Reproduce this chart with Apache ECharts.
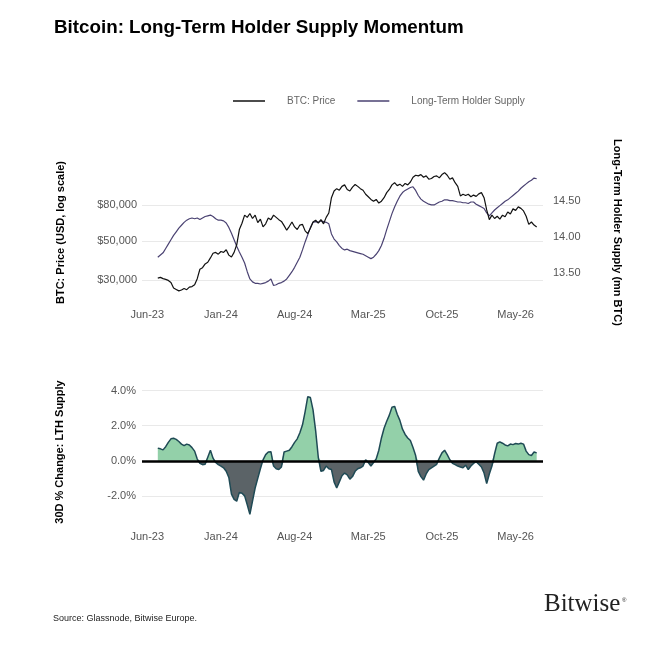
<!DOCTYPE html>
<html>
<head>
<meta charset="utf-8">
<script src="https://cdn.jsdelivr.net/npm/echarts@6/dist/echarts.min.js"></script>
<style>
  html, body { margin: 0; padding: 0; background: #fff; }
  #lthChart { width: 671px; height: 671px; }
</style>
</head>
<body>
<div id="lthChart"></div>
<script>
// x positions are months after Jun-23, one point every quarter month
const startMonth = 1
const stepMonth = 0.25
const tickMonths = [0, 7, 14, 21, 28, 35]
const tickLabels = ['Jun-23', 'Jan-24', 'Aug-24', 'Mar-25', 'Oct-25', 'May-26']

// BTC price, USD thousands
const price = [
  30.7, 31.0, 30.5, 30.2, 29.8, 29.0, 27.0, 26.5, 26.0, 26.3, 26.8, 26.4, 27.3, 27.5, 28.2, 30.5,
  34.5, 35.2, 37.0, 37.8, 40.0, 42.5, 43.0, 42.0, 43.5, 43.0, 44.5, 41.5, 40.5, 43.0, 47.5, 58.0,
  63.0, 70.0, 68.0, 71.5, 67.0, 70.0, 63.5, 66.5, 60.0, 62.5, 67.5, 66.0, 70.0, 68.0, 66.0, 64.5,
  61.0, 57.5, 60.5, 64.0, 60.0, 58.0, 61.5, 62.0, 57.0, 55.0, 59.0, 64.0, 65.5, 63.0, 66.0, 62.5,
  68.0, 72.0, 88.0, 96.0, 99.0, 97.0, 102.0, 104.0, 98.0, 96.0, 101.0, 104.5, 102.0, 99.0, 97.0, 92.0,
  89.0, 86.0, 84.0, 86.0, 82.0, 84.0, 88.0, 94.0, 98.0, 104.0, 107.0, 103.0, 105.0, 102.0, 106.0, 104.0,
  108.0, 115.0, 118.0, 117.0, 119.0, 115.0, 117.0, 112.0, 113.0, 116.0, 117.0, 114.0, 119.0, 122.0, 118.0, 112.0,
  114.0, 107.0, 102.0, 90.0, 92.0, 90.5, 92.0, 89.0, 91.0, 89.5, 92.5, 94.0, 88.0, 75.0, 66.0, 70.0,
  67.0, 69.0, 66.5, 70.0, 68.5, 73.0, 71.0, 76.0, 74.5, 78.0, 76.5, 74.0, 69.0, 62.0, 64.0, 61.5,
  60.0
]

// long-term holder supply, mn BTC
const lthSupply = [
  13.72, 13.75, 13.78, 13.84, 13.90, 13.96, 14.02, 14.07, 14.12, 14.16, 14.20, 14.23, 14.25, 14.26, 14.25, 14.26,
  14.24, 14.26, 14.28, 14.29, 14.30, 14.28, 14.25, 14.23, 14.23, 14.22, 14.19, 14.13, 14.05, 13.96, 13.87, 13.79,
  13.72, 13.64, 13.52, 13.42, 13.38, 13.36, 13.36, 13.35, 13.36, 13.37, 13.39, 13.42, 13.33, 13.34, 13.36, 13.37,
  13.39, 13.42, 13.47, 13.52, 13.58, 13.65, 13.72, 13.82, 13.93, 14.03, 14.13, 14.20, 14.21, 14.20, 14.22, 14.21,
  14.20, 14.18, 14.04, 13.97, 13.93, 13.88, 13.84, 13.82, 13.83, 13.81, 13.80, 13.79, 13.78, 13.77, 13.76, 13.74,
  13.72, 13.70, 13.72, 13.76, 13.81, 13.88, 13.98, 14.10, 14.21, 14.32, 14.41, 14.49, 14.56, 14.61, 14.64, 14.66,
  14.68, 14.69, 14.64, 14.57, 14.52, 14.49, 14.47, 14.45, 14.44, 14.44, 14.46, 14.48, 14.49, 14.51, 14.51, 14.50,
  14.50, 14.49, 14.48, 14.48, 14.47, 14.47, 14.46, 14.48, 14.48, 14.45, 14.43, 14.41, 14.39, 14.33, 14.29, 14.33,
  14.37, 14.40, 14.43, 14.46, 14.49, 14.51, 14.54, 14.57, 14.60, 14.63, 14.67, 14.70, 14.73, 14.76, 14.78, 14.81,
  14.80
]

// 30 day % change of LTH supply
const lthChange = [
  0.72, 0.68, 0.62, 0.80, 1.05, 1.25, 1.28, 1.22, 1.10, 0.95, 0.86, 0.95, 0.90, 0.75, 0.55, 0.10,
  -0.15, -0.22, -0.20, 0.20, 0.60, 0.15, -0.10, -0.22, -0.30, -0.40, -0.60, -0.95, -1.90, -2.20, -2.30, -1.80,
  -1.85, -2.00, -2.50, -3.05, -2.30, -1.55, -1.00, -0.45, 0.05, 0.35, 0.50, 0.52, -0.30, -0.45, -0.50, -0.35,
  0.50, 0.55, 0.60, 0.80, 1.05, 1.25, 1.60, 2.05, 2.80, 3.65, 3.60, 2.90, 1.70, 0.20, -0.60, -0.55,
  -0.30, -0.45, -0.50, -1.20, -1.55, -1.20, -0.85, -0.70, -0.80, -1.05, -0.90, -0.60, -0.45, -0.40, -0.30, 0.05,
  -0.10, -0.30, -0.10, 0.10, 0.60, 1.30, 1.85, 2.25, 2.60, 3.05, 3.10, 2.65, 2.30, 1.80, 1.50, 1.30,
  1.15, 0.75, 0.30, -0.60, -0.90, -1.10, -0.75, -0.50, -0.40, -0.30, -0.20, 0.15, 0.45, 0.60, 0.35, 0.06,
  -0.15, -0.22, -0.30, -0.35, -0.40, -0.25, -0.50, -0.30, -0.15, -0.05, -0.20, -0.35, -0.70, -1.30, -0.75, -0.30,
  0.40, 1.00, 1.08, 1.00, 0.90, 0.85, 0.95, 0.92, 0.98, 0.95, 1.00, 0.95, 0.55, 0.35, 0.30, 0.50,
  0.45
]

const priceTicks = [30000, 50000, 80000]
const supplyTicks = [13.5, 14.0, 14.5]
const changeTicks = [-2, 0, 2, 4]

const months = price.map((_, i) => startMonth + i * stepMonth)
const font = '"Liberation Sans", Arial, sans-serif'
const labelColor = '#555'
const gridColor = '#e9e9e9'

const chart = echarts.init(document.getElementById('lthChart'))

function xAxisFor (gridIndex, margin) {
  return {
    type: 'value',
    gridIndex: gridIndex,
    min: -0.5,
    max: 37.6,
    axisLine: { show: false },
    axisTick: { show: false, customValues: tickMonths },
    splitLine: { show: false },
    axisLabel: {
      customValues: tickMonths,
      margin: margin,
      color: labelColor,
      fontSize: 11,
      fontFamily: font,
      formatter: function (v) {
        const k = tickMonths.indexOf(v)
        return k >= 0 ? tickLabels[k] : ''
      }
    }
  }
}

// area fill split at zero: green above, grey below
function areaSeries (name, color, keep) {
  return {
    name: name,
    type: 'line',
    xAxisIndex: 1,
    yAxisIndex: 2,
    showSymbol: false,
    lineStyle: { width: 0 },
    areaStyle: { color: color, opacity: 1 },
    data: lthChange.map((v, i) => [months[i], keep(v) ? v : 0])
  }
}

const axisNameStyle = { fontFamily: font, fontSize: 11, fontWeight: 'bold', color: '#000' }

const option = {
  backgroundColor: '#fff',
  animation: false,
  title: {
    text: 'Bitcoin: Long-Term Holder Supply Momentum',
    left: 49,
    top: 13,
    textStyle: { fontFamily: font, fontSize: 18.8, fontWeight: 'bold', color: '#000' }
  },
  legend: {
    left: 228,
    top: 91,
    icon: 'rect',
    itemWidth: 32,
    itemHeight: 1.5,
    itemGap: 22,
    data: ['BTC: Price', 'Long-Term Holder Supply'],
    textStyle: { fontFamily: font, fontSize: 10, color: '#666', padding: [0, 0, 0, 17] }
  },
  grid: [
    { left: 142, top: 165, width: 401, height: 135 },
    { left: 142, top: 380, width: 401, height: 144 }
  ],
  xAxis: [xAxisFor(0, 9), xAxisFor(1, 7)],
  yAxis: [
    {
      type: 'log',
      gridIndex: 0,
      min: 23070,
      max: 134900,
      name: 'BTC: Price (USD, log scale)',
      nameLocation: 'middle',
      nameRotate: 90,
      nameGap: 76,
      nameTextStyle: axisNameStyle,
      axisLine: { show: false },
      axisTick: { show: false, customValues: priceTicks },
      splitLine: { show: true, lineStyle: { color: gridColor } },
      axisLabel: {
        customValues: priceTicks,
        margin: 5,
        color: labelColor,
        fontSize: 11,
        fontFamily: font,
        formatter: function (v) { return '$' + Math.round(v).toLocaleString('en-US') }
      }
    },
    {
      type: 'value',
      gridIndex: 0,
      position: 'right',
      min: 13.13,
      max: 14.99,
      name: 'Long-Term Holder Supply (mn BTC)',
      nameLocation: 'middle',
      nameRotate: -90,
      nameGap: 69,
      nameTextStyle: axisNameStyle,
      axisLine: { show: false },
      axisTick: { show: false, customValues: supplyTicks },
      splitLine: { show: false },
      axisLabel: {
        customValues: supplyTicks,
        margin: 10,
        color: labelColor,
        fontSize: 11,
        fontFamily: font,
        formatter: function (v) { return v.toFixed(2) }
      }
    },
    {
      type: 'value',
      gridIndex: 1,
      min: -3.6,
      max: 4.6,
      name: '30D % Change: LTH Supply',
      nameLocation: 'middle',
      nameRotate: 90,
      nameGap: 77,
      nameTextStyle: axisNameStyle,
      axisLine: { show: false },
      axisTick: { show: false, customValues: changeTicks },
      splitLine: { show: true, lineStyle: { color: gridColor } },
      axisLabel: {
        customValues: changeTicks,
        margin: 6,
        color: labelColor,
        fontSize: 11,
        fontFamily: font,
        formatter: function (v) { return v.toFixed(1) + '%' }
      }
    }
  ],
  series: [
    {
      name: 'BTC: Price',
      type: 'line',
      xAxisIndex: 0,
      yAxisIndex: 0,
      showSymbol: false,
      color: '#111',
      lineStyle: { width: 1.2, color: '#111' },
      data: price.map((p, i) => [months[i], p * 1000]),
      z: 3
    },
    {
      name: 'Long-Term Holder Supply',
      type: 'line',
      xAxisIndex: 0,
      yAxisIndex: 1,
      showSymbol: false,
      color: '#4a4272',
      lineStyle: { width: 1.2, color: '#4a4272' },
      data: lthSupply.map((v, i) => [months[i], v]),
      z: 2
    },
    areaSeries('rise', '#93d0a9', v => v > 0),
    areaSeries('fall', '#5b6367', v => v < 0),
    {
      name: 'outline',
      type: 'line',
      xAxisIndex: 1,
      yAxisIndex: 2,
      showSymbol: false,
      lineStyle: { width: 1.5, color: '#1f4a55' },
      data: lthChange.map((v, i) => [months[i], v]),
      markLine: {
        silent: true,
        symbol: 'none',
        label: { show: false },
        lineStyle: { color: '#000', width: 2.5, type: 'solid' },
        data: [{ yAxis: 0 }]
      }
    }
  ],
  graphic: [
    {
      type: 'text',
      left: 53,
      top: 614,
      style: { text: 'Source: Glassnode, Bitwise Europe.', fontFamily: font, fontSize: 9, fill: '#222' }
    },
    {
      type: 'text',
      left: 544,
      top: 592,
      style: { text: 'Bitwise', fontFamily: '"Liberation Serif", "DejaVu Serif", serif', fontSize: 25, fill: '#222' }
    },
    {
      type: 'text',
      left: 622,
      top: 597,
      style: { text: '®', fontFamily: font, fontSize: 6, fill: '#222' }
    }
  ]
}

chart.setOption(option)
</script>
</body>
</html>
